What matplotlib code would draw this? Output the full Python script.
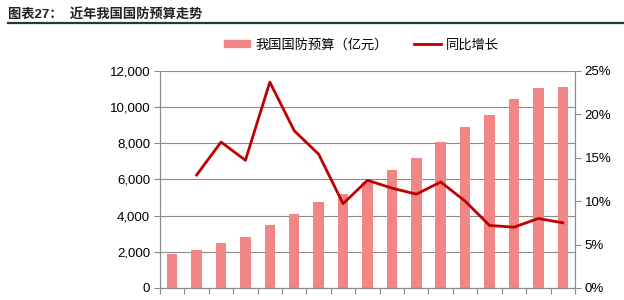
import matplotlib.pyplot as plt
from matplotlib.ticker import FuncFormatter, PercentFormatter
from matplotlib.lines import Line2D
from matplotlib.patches import Patch

plt.rcParams['font.family'] = ['Liberation Sans', 'Noto Sans CJK SC']

# 近年我国国防预算（亿元）与同比增长
years = ['2003', '2004', '2005', '2006', '2007', '2008', '2009', '2010', '2011',
         '2012', '2013', '2014', '2015', '2016', '2017', '2018', '2019']
budget = [1853, 2100, 2475, 2838, 3472, 4099, 4729, 5191, 5836,
          6503, 7202, 8082, 8869, 9543, 10444, 11070, 11130]
growth = [None, 13.0, 16.8, 14.7, 23.7, 18.1, 15.4, 9.7, 12.4,
          11.5, 10.8, 12.2, 10.0, 7.2, 7.0, 8.0, 7.5]

bar_color = '#F28585'
line_color = '#C00000'
grid_color = '#8C8C8C'

fig = plt.figure(figsize=(6.24, 3.0), dpi=100)
ax = fig.add_axes([0.2564, 0.04, 0.665, 0.724])
ax2 = ax.twinx()

x = list(range(len(years)))
ax.bar(x, budget, width=0.43, color=bar_color, zorder=2)
ax.set_ylim(0, 12000)
ax.set_xlim(-0.5, len(years) - 0.5)
ax.set_yticks(range(0, 12001, 2000))
ax.yaxis.set_major_formatter(FuncFormatter(lambda v, p: f'{int(v):,}'))
ax.grid(axis='y', color=grid_color, linewidth=0.8, zorder=0)
ax.set_axisbelow(True)
ax.set_xticks([i - 0.5 for i in range(len(years) + 1)])
ax.set_xticklabels([])
ax.tick_params(axis='x', length=4, color=grid_color)
ax.tick_params(axis='y', length=4, color=grid_color, labelsize=9.5, pad=3)

gx = [i for i, g in zip(x, growth) if g is not None]
gy = [g for g in growth if g is not None]
ax2.plot(gx, gy, color=line_color, linewidth=2, zorder=3)
ax2.set_ylim(0, 25)
ax2.set_yticks(range(0, 26, 5))
ax2.yaxis.set_major_formatter(PercentFormatter(decimals=0))
ax2.tick_params(axis='y', length=4, color=grid_color, labelsize=9.5, pad=3)

for a in (ax, ax2):
    a.spines['top'].set_visible(False)
    for s in ('left', 'right', 'bottom'):
        a.spines[s].set_color(grid_color)
        a.spines[s].set_linewidth(0.8)

# 标题
fig.text(0.013, 0.95, '图表27：  近年我国国防预算走势', fontsize=9.5, fontweight='bold',
         color='#222222', va='center', ha='left')
fig.add_artist(Line2D([0.013, 1.0], [0.923, 0.923], color='#1F3B3B', linewidth=1.6))

handles = [Patch(color=bar_color), Line2D([0], [0], color=line_color, linewidth=2)]
fig.legend(handles, ['我国国防预算（亿元）', '同比增长'], loc='center',
           bbox_to_anchor=(0.579, 0.85), ncol=2, frameon=False, fontsize=9.5,
           handlelength=2.0, handleheight=0.5, columnspacing=2.0, handletextpad=0.4)

fig.savefig('out.png', dpi=100)
